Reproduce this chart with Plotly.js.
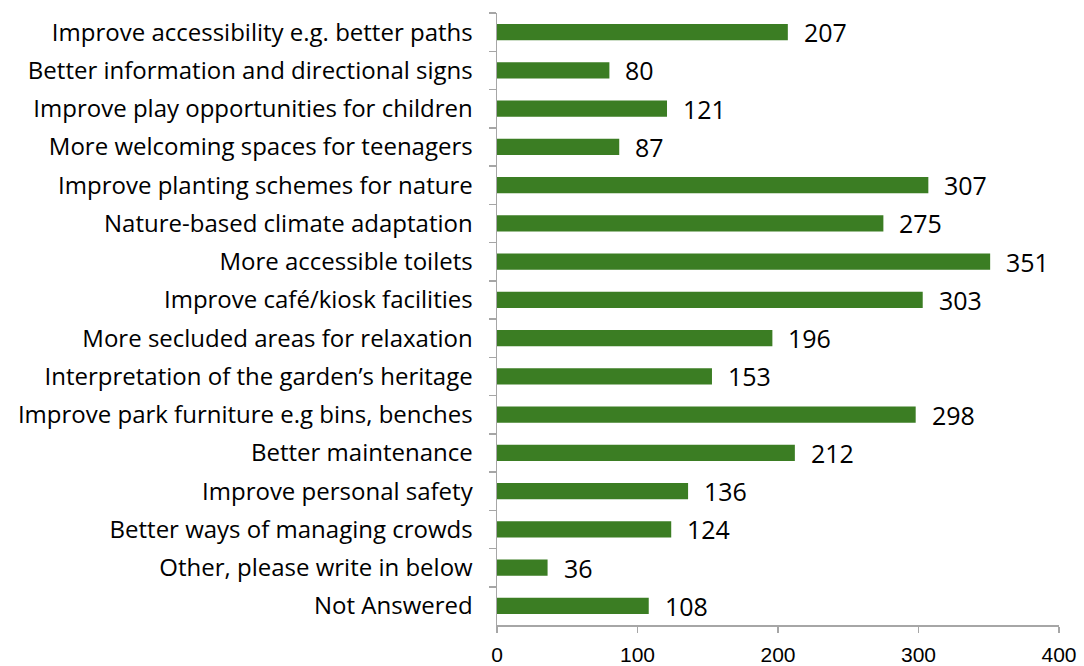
<!DOCTYPE html>
<html><head><meta charset="utf-8">
<script src="https://cdn.plot.ly/plotly-3.0.1.min.js"></script>
<style>html,body{margin:0;padding:0;background:#fff}</style>
</head><body><div id="chart" style="width:1084px;height:666px"></div>
<script>
const categories = [
  "Improve accessibility e.g. better paths",
  "Better information and directional signs",
  "Improve play opportunities for children",
  "More welcoming spaces for teenagers",
  "Improve planting schemes for nature",
  "Nature-based climate adaptation",
  "More accessible toilets",
  "Improve café/kiosk facilities",
  "More secluded areas for relaxation",
  "Interpretation of the garden’s heritage",
  "Improve park furniture e.g bins, benches",
  "Better maintenance",
  "Improve personal safety",
  "Better ways of managing crowds",
  "Other, please write in below",
  "Not Answered"
];
const counts = [207, 80, 121, 87, 307, 275, 351, 303, 196, 153, 298, 212, 136, 124, 36, 108];
const xTicks = [0, 100, 200, 300, 400];

const trace = {
  type: 'bar', orientation: 'h',
  x: counts, y: categories,
  marker: {color: '#3b7d23'},
  width: 0.42,
  hoverinfo: 'none'
};
const annotations = counts.map((v, i) => ({
  x: v, y: categories[i], xref: 'x', yref: 'y',
  text: String(v), showarrow: false, xanchor: 'left', xshift: 14,
  font: {family: '"Open Sans", "Liberation Sans", Arial, sans-serif', size: 25, color: '#000'}
}));
const layout = {
  width: 1084, height: 666,
  margin: {l: 497, r: 25, t: 13, b: 41},
  paper_bgcolor: '#fff', plot_bgcolor: '#fff',
  showlegend: false,
  xaxis: {
    range: [0, 400], tickvals: xTicks, ticktext: xTicks.map(String),
    showgrid: false, zeroline: false, showline: true, linecolor: '#a6a6a6', linewidth: 1.5,
    ticks: 'outside', ticklen: 6, tickcolor: '#a6a6a6', tickwidth: 1.5,
    tickfont: {family: '"Liberation Sans", Arial, sans-serif', size: 21, color: '#000'},
    ticklabelstandoff: 4,
    fixedrange: true
  },
  yaxis: {
    type: 'category', autorange: 'reversed',
    showgrid: false, zeroline: false, showline: true, linecolor: '#a6a6a6', linewidth: 1.5,
    ticks: 'outside', ticklen: 7, tickcolor: '#a6a6a6', tickwidth: 1.5, tickson: 'boundaries',
    tickfont: {family: '"Open Sans", "Liberation Sans", Arial, sans-serif', size: 24, color: '#000'},
    ticklabelstandoff: 18,
    fixedrange: true
  },
  annotations: annotations
};
Plotly.newPlot('chart', [trace], layout, {displayModeBar: false, staticPlot: true});
</script></body></html>
